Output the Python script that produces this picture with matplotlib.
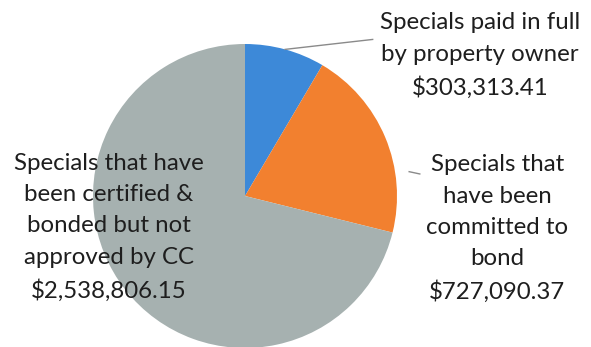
import numpy as np
import matplotlib.pyplot as plt

# Datos del grafico
labels = ["Specials paid in full\nby property owner",
          "Specials that\nhave been\ncommitted to\nbond",
          "Specials that have\nbeen certified &\nbonded but not\napproved by CC"]
values = [303313.41, 727090.37, 2538806.15]
colors = ["#3d89d8", "#f2802f", "#a6b1b0"]

plt.rcParams['font.family'] = ['Lato', 'DejaVu Sans']

fig = plt.figure(figsize=(5.91, 3.47), dpi=100)
# ejes cuadrados para el pie, centro ~ (245, 196) px, radio ~152 px
ax = fig.add_axes([93 / 591, -1 / 347, 304 / 591, 304 / 347])
wedges, _ = ax.pie(values, colors=colors, startangle=90, counterclock=False,
                   radius=1.0, wedgeprops=dict(linewidth=0))
ax.set_xlim(-1, 1)
ax.set_ylim(-1, 1)
ax.set_aspect('equal')
ax.axis('off')

# Etiquetas
label_pos = [(1.546, 0.925), (1.66, -0.215), (-0.895, -0.205)]
for lab, val, (x, y) in zip(labels, values, label_pos):
    txt = "{}\n${:,.2f}".format(lab, val)
    ax.text(x, y, txt, ha='center', va='center', fontsize=17.3,
            color='#1e1e1e', linespacing=1.6, clip_on=False)

# Lineas guia
ang = np.deg2rad((wedges[0].theta1 + wedges[0].theta2) / 2)
ax.plot([np.cos(ang), 0.84], [np.sin(ang), 1.03], color='#8a8a8a',
        lw=1.0, clip_on=False)
ax.plot([1.08, 1.15], [0.16, 0.145], color='#8a8a8a', lw=1.0, clip_on=False)

fig.savefig("out.png", dpi=100)
